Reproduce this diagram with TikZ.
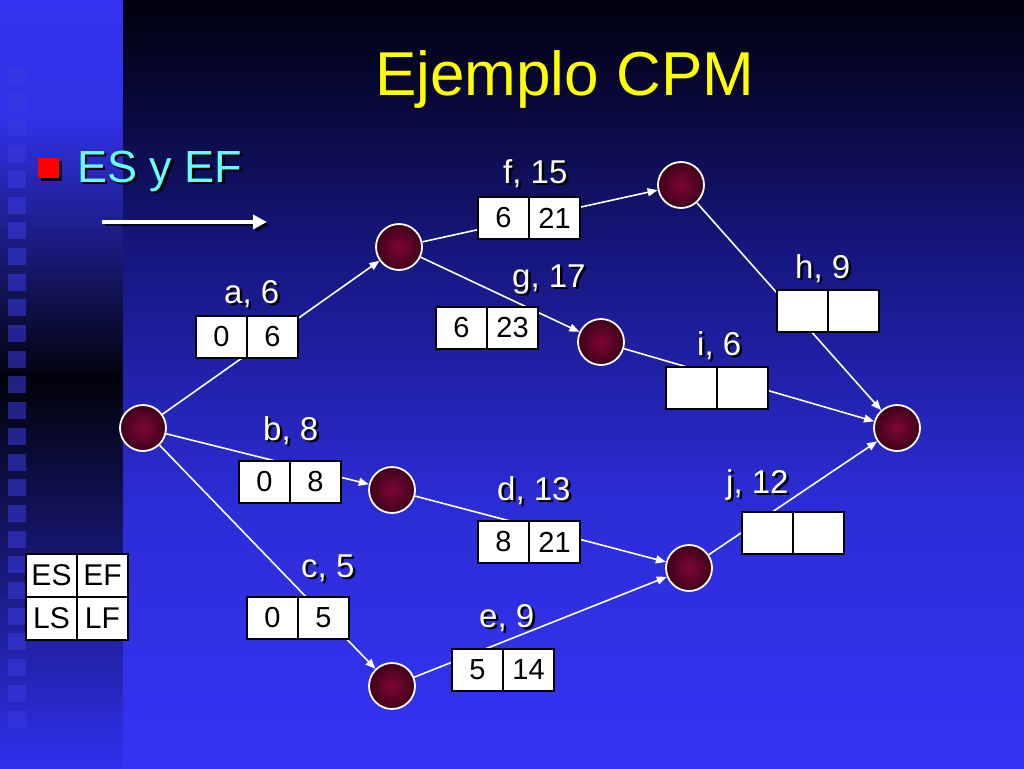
\documentclass[tikz,border=0pt]{standalone}
\usepackage{fontspec}
\setmainfont{Liberation Sans}
\usetikzlibrary{arrows.meta}
\definecolor{bgA}{HTML}{00000C}
\definecolor{bgB}{HTML}{16167E}
\definecolor{bgC}{HTML}{2C2CD6}
\definecolor{bgD}{HTML}{3434F6}
\definecolor{stA}{HTML}{3434F0}
\definecolor{stB}{HTML}{3131E6}
\definecolor{stC}{HTML}{02020A}
\definecolor{stD}{HTML}{3030EE}
\definecolor{sqc}{HTML}{3A3AE0}
\definecolor{dotin}{HTML}{7E0838}
\definecolor{dotout}{HTML}{3E0018}
\definecolor{titlec}{HTML}{FFFF00}
\definecolor{subc}{HTML}{66FFFF}
\definecolor{txtshadow}{HTML}{000000}
\newcommand\shadowed[1]{\makebox[0pt][l]{\hspace{2.5pt}\raisebox{-2.5pt}{\color{txtshadow}#1}}#1}
\tikzset{
  dot/.style={circle, minimum size=46pt, inner sep=0pt, draw=white, line width=1.8pt,
    shading=radial, inner color=dotin, outer color=dotout},
  edge/.style={draw=white, line width=1.6pt, -{Triangle[length=10pt,width=8pt]}},
  cell/.style={rectangle, draw=black, line width=1.1pt, fill=white, minimum width=51pt,
    minimum height=42pt, inner sep=0pt, font=\fontsize{29}{30}\selectfont, text=black},
  lcell/.style={cell, minimum height=43pt, font=\fontsize{30}{31}\selectfont},
  lbl/.style={anchor=base west, inner sep=0pt, text=white, font=\fontsize{33}{34}\selectfont},
  sq/.style={fill=sqc, fill opacity=0.55}
}
\begin{document}
\begin{tikzpicture}[x=1pt,y=-1pt]
\useasboundingbox (0,0) rectangle (1024,768);
% background, main area
\shade[top color=bgA, bottom color=bgB] (122,0) rectangle (1024,250.5);
\shade[top color=bgB, bottom color=bgC] (122,250) rectangle (1024,500.5);
\shade[top color=bgC, bottom color=bgD] (122,500) rectangle (1024,768);
% left strip
\shade[top color=stA, bottom color=stB] (0,0) rectangle (122.5,120.5);
\shade[top color=stB, bottom color=stC] (0,120) rectangle (122.5,380.5);
\shade[top color=stC, bottom color=stD] (0,380) rectangle (122.5,768);
\foreach \k in {0,...,25} {
  \fill[sq] (8,{68+25.7*\k}) rectangle ++(18,17);
}
% title and bullet
\node[anchor=base west, inner sep=0pt, text=titlec, font=\fontsize{62}{64}\selectfont] (title) at (375,95) {Ejemplo CPM};
\fill[black, opacity=0.8] (40.5,160.5) rectangle (61.5,180.5);
\fill[red] (38,158) rectangle (59,178);
\node[anchor=base west, inner sep=0pt, text=subc, font=\fontsize{45}{46}\selectfont] (sub) at (77,182) {\shadowed{ES y EF}};
% direction arrow
\coordinate (arrS) at (102,222);
\coordinate (arrE) at (267,222);
\draw[black, opacity=0.7, line width=3.5pt, -{Triangle[length=14pt,width=14pt]}] ([shift={(2.5,2.5)}]arrS) -- ([shift={(2.5,2.5)}]arrE);
\draw[white, line width=3.5pt, -{Triangle[length=14pt,width=14pt]}] (arrS) -- (arrE);
% event nodes
\node[dot] (n1) at (143,428) {};
\node[dot] (n2) at (399,247) {};
\node[dot] (n3) at (392,490) {};
\node[dot] (n4) at (392,686) {};
\node[dot] (n5) at (681,185) {};
\node[dot] (n6) at (601,342) {};
\node[dot] (n7) at (689,568) {};
\node[dot] (n8) at (897,428) {};
% activities
\draw[edge] (n1) -- (n2);
\draw[edge] (n1) -- (n3);
\draw[edge] (n1) -- (n4);
\draw[edge] (n2) -- (n5);
\draw[edge] (n2) -- (n6);
\draw[edge] (n3) -- (n7);
\draw[edge] (n4) -- (n7);
\draw[edge] (n5) -- (n8);
\draw[edge] (n6) -- (n8);
\draw[edge] (n7) -- (n8);
% boxes
\node[cell] (aL) at (221.5,337) {0};   \node[cell] (aR) at (272.5,337) {6};
\node[cell] (bL) at (264.5,482) {0};   \node[cell] (bR) at (315.5,482) {8};
\node[cell] (cL) at (272.5,618) {0};   \node[cell] (cR) at (323.5,618) {5};
\node[cell] (fL) at (503.5,218) {6};   \node[cell] (fR) at (554.5,218) {21};
\node[cell] (gL) at (461.5,328) {6};   \node[cell] (gR) at (512.5,328) {23};
\node[cell] (hL) at (802.5,311) {};    \node[cell] (hR) at (853.5,311) {};
\node[cell] (iL) at (691.5,388) {};    \node[cell] (iR) at (742.5,388) {};
\node[cell] (dL) at (503.5,542) {8};   \node[cell] (dR) at (554.5,542) {21};
\node[cell] (jL) at (767.5,533) {};    \node[cell] (jR) at (818.5,533) {};
\node[cell] (eL) at (477.5,670) {5};   \node[cell] (eR) at (528.5,670) {14};
% legend
\node[lcell] (esL) at (51.5,575.5) {ES};  \node[lcell] (efR) at (102.5,575.5) {EF};
\node[lcell] (lsL) at (51.5,618.5) {LS};  \node[lcell] (lfR) at (102.5,618.5) {LF};
% labels
\node[lbl] (la) at (224,303) {\shadowed{a, 6}};
\node[lbl] (lb) at (263,440) {\shadowed{b, 8}};
\node[lbl] (lc) at (301,577) {\shadowed{c, 5}};
\node[lbl] (lf) at (503,183) {\shadowed{f, 15}};
\node[lbl] (lg) at (512,287) {\shadowed{g, 17}};
\node[lbl] (lh) at (795,278) {\shadowed{h, 9}};
\node[lbl] (li) at (697,355) {\shadowed{i, 6}};
\node[lbl] (ld) at (497,500) {\shadowed{d, 13}};
\node[lbl] (lj) at (726,493) {\shadowed{j, 12}};
\node[lbl] (le) at (479,627) {\shadowed{e, 9}};
\end{tikzpicture}
\end{document}
